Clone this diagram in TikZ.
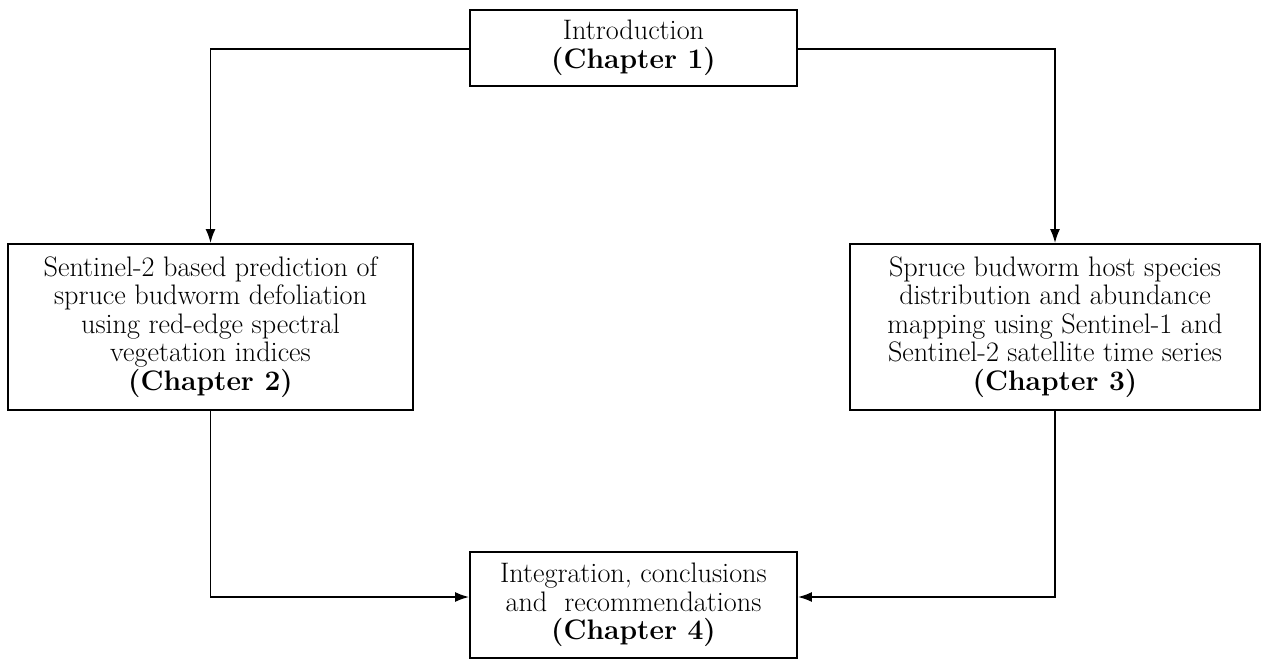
\documentclass[tikz,border=0pt]{standalone}
\usepackage{fontspec}
\setmainfont{Latin Modern Roman}
\usetikzlibrary{arrows.meta}
\begin{document}
\begin{tikzpicture}[x=1pt,y=-1pt,
  box/.style={draw, line width=1.8pt, align=center, inner sep=0pt,
    font=\fontsize{28.2}{28.5}\selectfont},
  conn/.style={line width=1.8pt, -{Latex[length=14pt,width=10pt]}}]
\useasboundingbox[fill=white] (0,0) rectangle (1267,659);
\node[box, minimum width=327pt, minimum height=76pt] (intro) at (633.5,48)
  {Introduction\\\textbf{(Chapter 1)}};
\node[box, minimum width=405pt, minimum height=166pt] (ch2) at (210.5,327)
  {Sentinel-2 based prediction of\\spruce budworm defoliation\\using red-edge spectral\\vegetation indices\\\textbf{(Chapter 2)}};
\node[box, minimum width=410pt, minimum height=166pt] (ch3) at (1055,327)
  {Spruce budworm host species\\distribution and abundance\\mapping using Sentinel-1 and\\Sentinel-2 satellite time series\\\textbf{(Chapter 3)}};
\node[box, minimum width=327pt, minimum height=106pt] (ch4) at (633.5,605)
  {Integration, conclusions\\and \ recommendations\\\textbf{(Chapter 4)}};
\draw[conn] ([yshift=-1pt]intro.west) -| (ch2.north);
\draw[conn] ([yshift=-1pt]intro.east) -| (ch3.north);
\draw[conn] (ch2.south) |- ([yshift=8pt]ch4.west);
\draw[conn] (ch3.south) |- ([yshift=8pt]ch4.east);
\end{tikzpicture}
\end{document}
